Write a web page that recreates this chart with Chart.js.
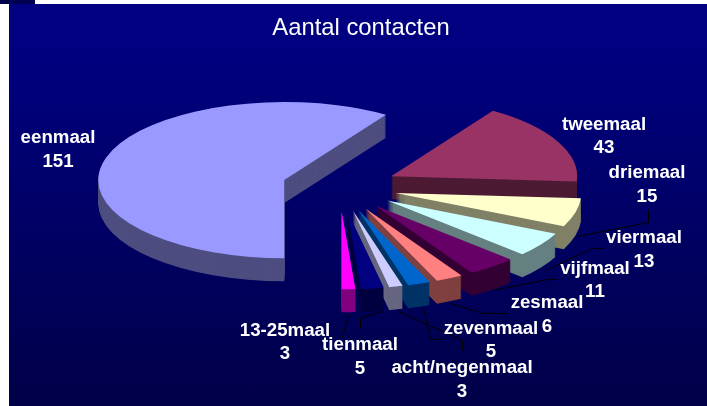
<!DOCTYPE html>
<html>
<head>
<meta charset="utf-8">
<style>
html,body{margin:0;padding:0;background:#fff;overflow:hidden}
#wrap{position:relative;width:707px;height:406px}
#strip{position:absolute;left:0;top:0;width:35px;height:4px;background:#000050}
#bg{position:absolute;left:9px;top:4px;right:0;bottom:0;background:linear-gradient(#000080 0%,#000080 12%,#000048 100%)}
canvas{position:absolute;left:0;top:0}
</style>
</head>
<body>
<div id="wrap"><div id="strip"></div><div id="bg"></div><canvas id="c" width="707" height="406"></canvas></div>
<script src="https://cdn.jsdelivr.net/npm/chart.js@4"></script>
<script>
const categories = ['eenmaal','tweemaal','driemaal','viermaal','vijfmaal','zesmaal','zevenmaal','acht/negenmaal','tienmaal','13-25maal'];
const contacts = [151,43,15,13,11,6,5,3,5,3];
const topColors = ['#9999FF','#993366','#FFFFCC','#CCFFFF','#660066','#FF8080','#0066CC','#CCCCFF','#000080','#FF00FF'];
const sideColors = ['#4D4D80','#4D1A33','#808066','#668080','#330033','#804040','#003366','#666680','#000040','#800080'];

// Layout of the 3D projection and the hand-placed labels
const pieCentre = {x:339.5, y:187};
const squash = 0.42, depth = 23, explode = 0.31;
const labelCentreX = [58,604,647,644,595,547,491,462,360,285];
const labelNameY = [138,125,173,238,269,303,329,368,345,331];
const labelValueY = [162,148,197,262,292,327,352,392,369,354];
const leaderLines = [
  [[648,210],[648,222],[577,236]],
  [[603,248],[592,248],[545,270]],
  [[557,279],[547,279],[493,290]],
  [[507,313],[483,313],[450,303]],
  [[423,308],[430,339],[442,339]],
  [[398,311],[462,340],[462,350]],
  [[360,328],[360,317],[383,311]],
  [[342,337],[348,315]]
];

const pie3d = {
  id:'pie3d',
  beforeDatasetDraw(chart){
    const ctx = chart.ctx;
    const arcs = chart.getDatasetMeta(0).data;
    arcs.forEach((arc,i)=>{
      const mid = (arc.startAngle+arc.endAngle)/2;
      const d = explode*arc.outerRadius;
      const place = dy=>{
        ctx.setTransform(1,0,0,1,0,0);
        ctx.translate(pieCentre.x, pieCentre.y+dy);
        ctx.scale(1,squash);
        ctx.translate(Math.cos(mid)*d-arc.x, Math.sin(mid)*d-arc.y);
      };
      ctx.save();
      const own = arc.options;
      arc.options = Object.assign({},own,{backgroundColor:sideColors[i],borderColor:sideColors[i],borderWidth:0,offset:0});
      for(let dy=depth;dy>0;dy--){ place(dy); arc.draw(ctx); }
      arc.options = Object.assign({},own,{borderWidth:0,offset:0});
      place(0); arc.draw(ctx);
      arc.options = own;
      ctx.restore();
    });
    return false;
  },
  afterDraw(chart){
    const ctx = chart.ctx;
    ctx.save();
    ctx.strokeStyle='#000000'; ctx.lineWidth=1;
    leaderLines.forEach(l=>{
      ctx.beginPath();
      l.forEach((p,i)=> i?ctx.lineTo(p[0]+.5,p[1]+.5):ctx.moveTo(p[0]+.5,p[1]+.5));
      ctx.stroke();
    });
    ctx.fillStyle='#FFFFFF';
    ctx.font='bold 18.7px "Liberation Sans"';
    ctx.textAlign='center'; ctx.textBaseline='middle';
    categories.forEach((n,i)=>{
      ctx.fillText(n,labelCentreX[i],labelNameY[i]);
      ctx.fillText(String(contacts[i]),labelCentreX[i],labelValueY[i]);
    });
    ctx.restore();
  }
};

new Chart(document.getElementById('c'),{
  type:'pie',
  data:{labels:categories,datasets:[{data:contacts,backgroundColor:topColors,borderWidth:0}]},
  options:{
    responsive:false,animation:false,rotation:180,radius:186,
    layout:{padding:{left:15}},
    plugins:{
      legend:{display:false},tooltip:{enabled:false},
      title:{display:true,text:'Aantal contacten',fullSize:false,color:'#FFFFFF',
        font:{family:'"Liberation Sans"',size:23.8,weight:'normal'},padding:{top:14,bottom:10}}
    }
  },
  plugins:[pie3d]
});
</script>
</body>
</html>
